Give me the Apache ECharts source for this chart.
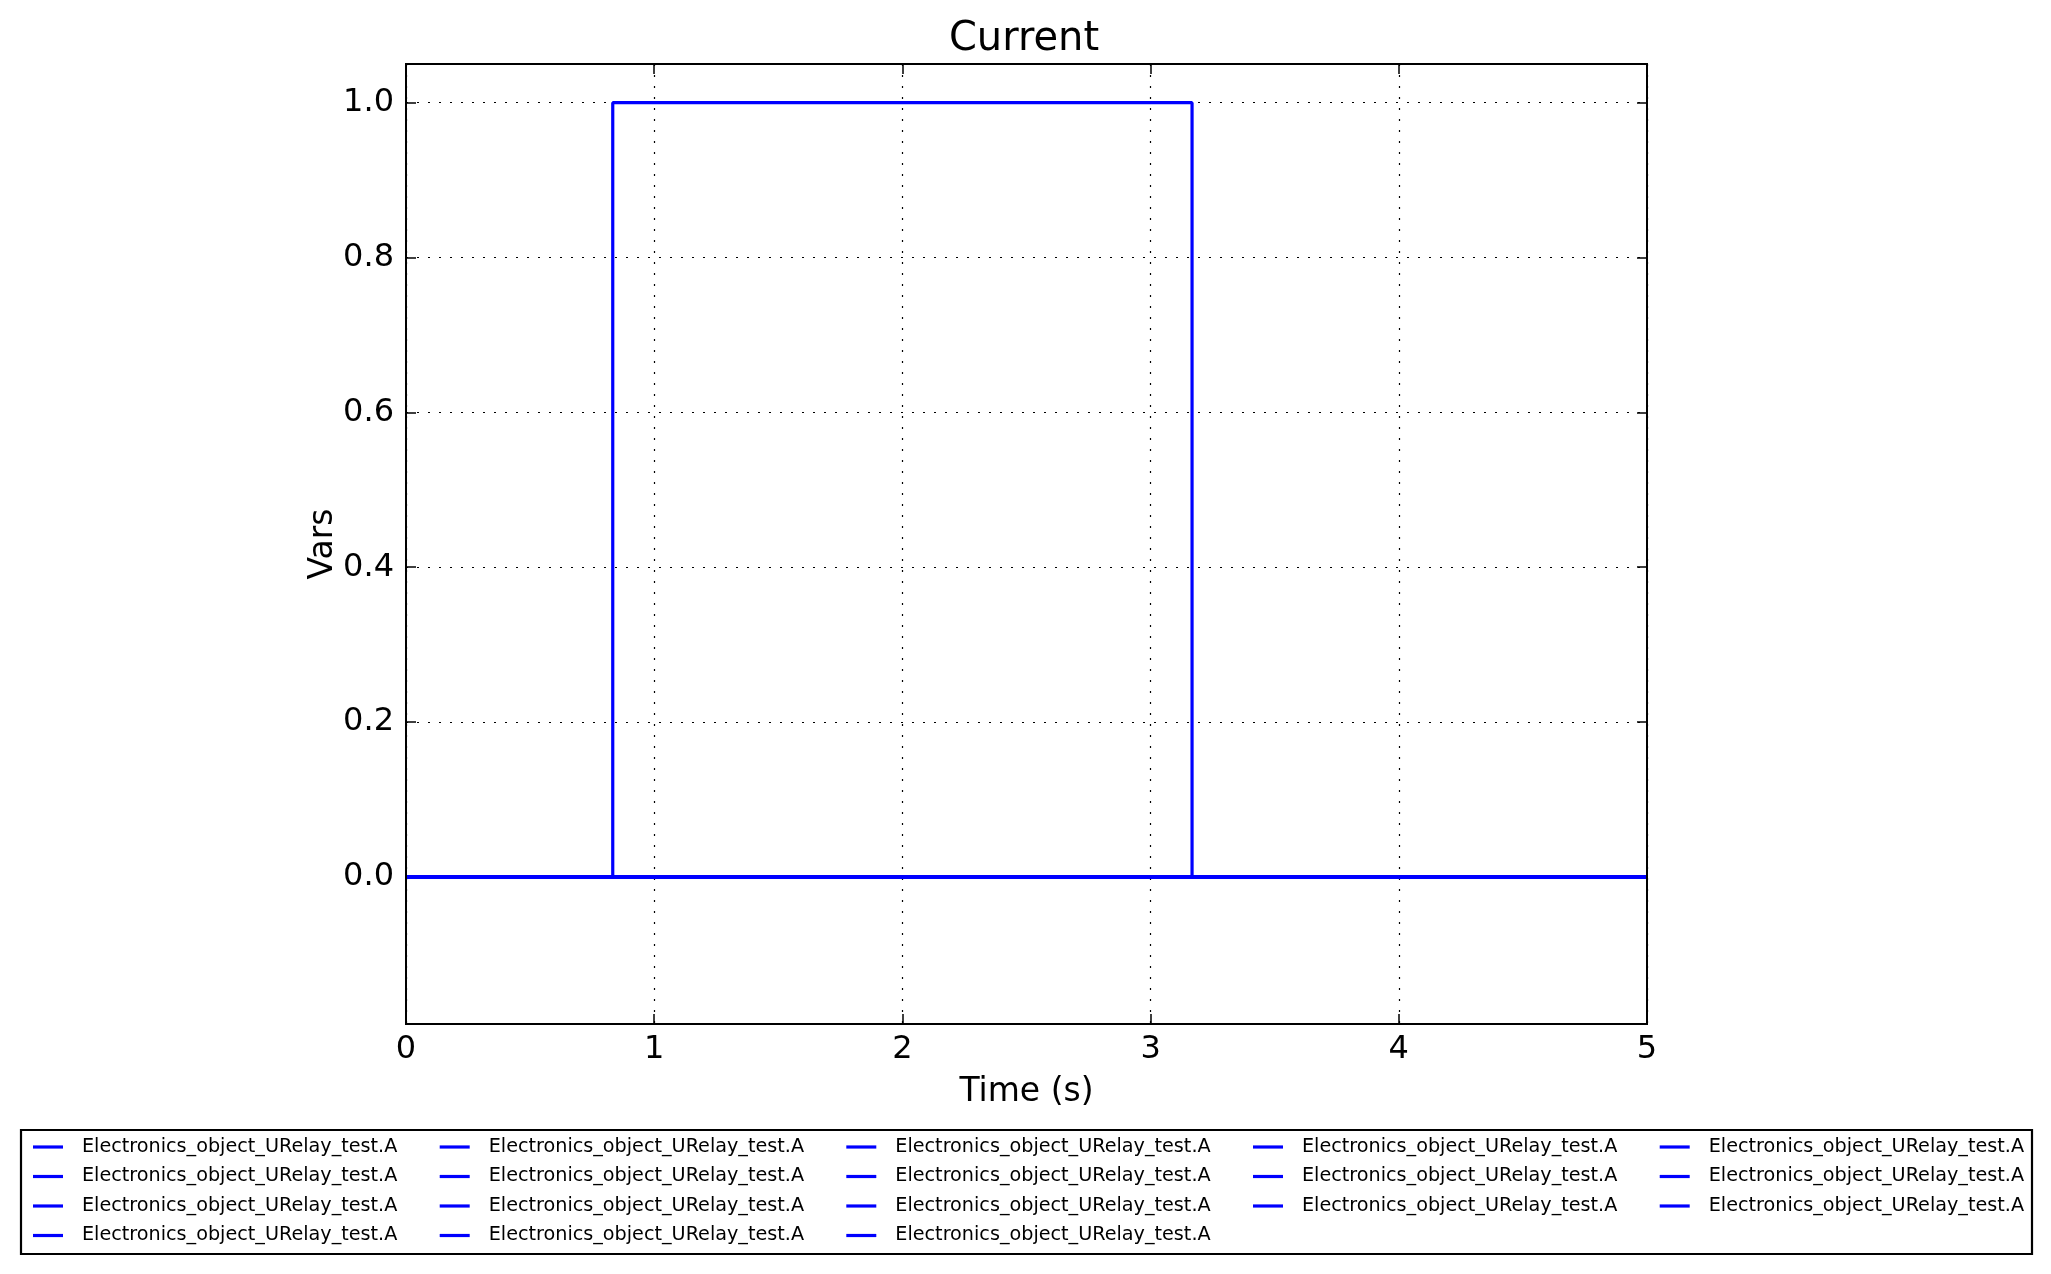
<!DOCTYPE html>
<html>
<head>
<meta charset="utf-8">
<script src="https://cdn.jsdelivr.net/npm/echarts@6/dist/echarts.min.js"></script>
<style>
html,body{margin:0;padding:0;background:#fff;}
#chart{width:2051px;height:1274px;}
</style>
</head>
<body>
<div id="chart"></div>
<script>
// ---- data ----
var titleText = 'Current';
var xAxisName = 'Time (s)';
var yAxisName = 'Vars';
var seriesName = 'Electronics_object_URelay_test.A';
var seriesCount = 18;
var xTicks = [0, 1, 2, 3, 4, 5];
var yTickLabels = ['0.0', '0.2', '0.4', '0.6', '0.8', '1.0'];
var xRange = [0, 5];
var yRange = [-0.19, 1.05];
// pulse trace (time, value)
var pulseTime = [0, 0.833, 0.833, 3.167, 3.167, 5];
var pulseValue = [0, 0, 1, 1, 0, 0];
// remaining traces stay at zero
var flatTime = [0, 5];
var flatValue = [0, 0];

var FONT = 'DejaVu Sans';
var BLUE = '#0000ff';

function pairs(xs, ys) {
  var out = [];
  for (var i = 0; i < xs.length; i++) out.push([xs[i], ys[i]]);
  return out;
}

var names = [];
for (var i = 0; i < seriesCount; i++) names.push(seriesName + '\u200b'.repeat(i));

var series = [];
for (var i = 0; i < seriesCount; i++) {
  series.push({
    type: 'line',
    name: names[i],
    data: i === 0 ? pairs(pulseTime, pulseValue) : pairs(flatTime, flatValue),
    showSymbol: false,
    symbol: 'none',
    color: BLUE,
    lineStyle: { color: BLUE, width: 3.2 },
    animation: false,
    silent: true,
    z: 3
  });
}

// legend columns (matplotlib ncol=5, column-major)
var perCol = [4, 4, 4, 3, 3];
var colX = [33, 439.7, 846.3, 1253, 1659.7];
var legends = [];
var idx = 0;
for (var c = 0; c < perCol.length; c++) {
  var d = names.slice(idx, idx + perCol[c]);
  idx += perCol[c];
  legends.push({
    data: d,
    orient: 'vertical',
    left: colX[c],
    top: 1137,
    itemWidth: 30,
    itemHeight: 3.2,
    itemGap: 9.5,
    icon: 'rect',
    selectedMode: false,
    padding: 0,
    textStyle: { fontFamily: FONT, fontSize: 19.2, color: '#000', lineHeight: 20, padding: [0, 0, 0, 14] }
  });
}

function yFmt(v) {
  var s = (Math.round(v * 10) / 10).toFixed(1);
  if (Math.abs(v - Math.round(v * 10) / 10) < 1e-6 && yTickLabels.indexOf(s) >= 0) return s;
  return '';
}
function xFmt(v) {
  return xTicks.indexOf(v) >= 0 ? String(v) : '';
}

var tickStyle = { show: true, inside: true, length: 10, lineStyle: { color: '#000', width: 1.5 } };
var gridLine = { show: true, lineStyle: { color: '#000', width: 1.2, type: [2, 9] } };

var option = {
  backgroundColor: '#fff',
  animation: false,
  title: {
    text: titleText,
    left: 1019, textAlign: 'center',
    top: 15,
    textStyle: { fontFamily: FONT, fontSize: 40, fontWeight: 'normal', color: '#000' }
  },
  legend: legends,
  grid: {
    left: 406, right: 404, top: 64, bottom: 250,
    show: true, borderColor: '#000', borderWidth: 2, backgroundColor: 'transparent', z: 10
  },
  xAxis: [{
    type: 'value', min: xRange[0], max: xRange[1], interval: 1,
    name: xAxisName, nameLocation: 'middle', nameGap: 52, nameMoveOverlap: false,
    nameTextStyle: { fontFamily: FONT, fontSize: 33, color: '#000' },
    axisLine: { show: true, onZero: false, lineStyle: { color: '#000', width: 2 } },
    axisTick: tickStyle,
    axisLabel: { fontFamily: FONT, fontSize: 32, color: '#000', margin: 10, formatter: xFmt },
    splitLine: gridLine
  }, {
    type: 'value', position: 'top', min: xRange[0], max: xRange[1], interval: 1,
    axisLine: { show: true, onZero: false, lineStyle: { color: '#000', width: 2 } },
    axisTick: tickStyle, axisLabel: { show: false }, splitLine: { show: false }
  }],
  yAxis: [{
    type: 'value', min: yRange[0], max: yRange[1], minInterval: 0.2, maxInterval: 0.2, splitNumber: 6,
    name: yAxisName, nameLocation: 'middle', nameGap: 66, nameRotate: 90, nameMoveOverlap: false,
    nameTextStyle: { fontFamily: FONT, fontSize: 33, color: '#000' },
    axisLine: { show: true, onZero: false, lineStyle: { color: '#000', width: 2 } },
    axisTick: tickStyle,
    axisLabel: { fontFamily: FONT, fontSize: 32, color: '#000', margin: 12, formatter: yFmt, showMinLabel: false, showMaxLabel: false },
    splitLine: gridLine
  }, {
    type: 'value', position: 'right', min: yRange[0], max: yRange[1], minInterval: 0.2, maxInterval: 0.2, splitNumber: 6,
    axisLine: { show: true, onZero: false, lineStyle: { color: '#000', width: 2 } },
    axisTick: tickStyle, axisLabel: { show: false }, splitLine: { show: false }
  }],
  graphic: [{
    type: 'rect',
    shape: { x: 21, y: 1130, width: 2011, height: 124 },
    style: { fill: 'none', stroke: '#000', lineWidth: 2.2 },
    silent: true, z: 0
  }],
  series: series
};

var chart = echarts.init(document.getElementById('chart'), null, { renderer: 'canvas' });
chart.setOption(option);
</script>
</body>
</html>
